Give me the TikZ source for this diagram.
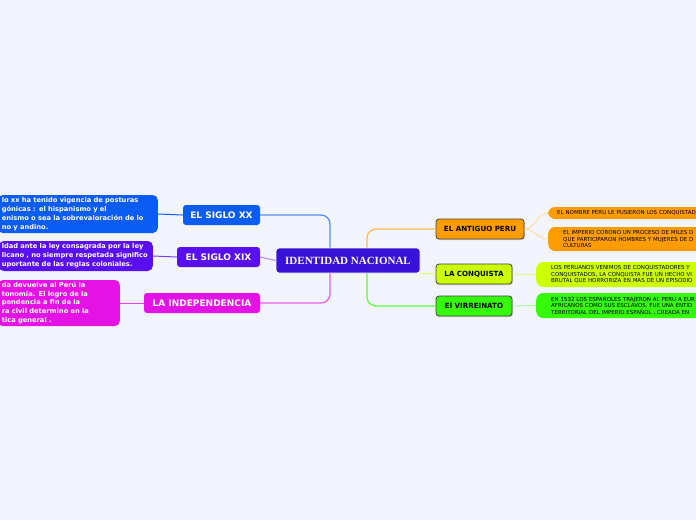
\documentclass[tikz,border=0pt]{standalone}
\usepackage{fontspec}
\setmainfont{DejaVu Sans}
\newfontfamily\titlefont{Liberation Serif}
\usetikzlibrary{positioning, shadows}

\definecolor{bgcol}{HTML}{F2F5FD}
\definecolor{centercol}{HTML}{3812D8}
\definecolor{xxcol}{HTML}{0B5CF2}
\definecolor{xixcol}{HTML}{5A0FF2}
\definecolor{indcol}{HTML}{E412E4}
\definecolor{antcol}{HTML}{FF9C00}
\definecolor{conqcol}{HTML}{CCFF00}
\definecolor{virrcol}{HTML}{35FA0A}

\begin{document}
\begin{tikzpicture}[
    x=1pt, y=-1pt,
    every node/.style={inner sep=0pt},
    branch/.style={
        rounded corners=3pt,
        minimum height=20pt,
        text=white,
        font=\fontsize{9}{10}\selectfont\bfseries
    },
    topic/.style={
        draw=black!75,
        line width=0.8pt,
        rounded corners=3pt,
        minimum height=20pt,
        text=black,
        font=\fontsize{7.1}{8}\selectfont\bfseries,
        drop shadow={shadow xshift=0.8pt, shadow yshift=-1pt, opacity=0.35}
    },
    noteL/.style={
        anchor=east,
        rounded corners=5pt,
        align=left,
        inner xsep=4pt,
        text=white,
        font=\fontsize{6.7}{9.1}\selectfont\bfseries
    },
    noteR/.style={
        anchor=west,
        rounded corners=7pt,
        align=left,
        text width=200pt,
        font=\fontsize{5.5}{6.3}\selectfont
    },
    link/.style={line width=1.2pt, rounded corners=9pt}
]

% background
\fill[bgcol] (0,0) rectangle (696,520);
\useasboundingbox (0,0) rectangle (696,520);

% central topic
\node[fill=centercol, draw=white, line width=0.8pt, rounded corners=3pt,
      minimum width=144pt, minimum height=25pt, text=white,
      font=\titlefont\fontsize{11}{12}\selectfont\bfseries] (ident) at (348,260.5) {IDENTIDAD NACIONAL};

% left branches
\node[branch, fill=xxcol, minimum width=77pt] (sxx) at (221.5,215) {EL SIGLO XX};
\node[branch, fill=xixcol, minimum width=83pt] (sxix) at (218.5,257) {EL SIGLO XIX};
\node[branch, fill=indcol, minimum width=116pt] (indep) at (202,303) {LA INDEPENDENCIA};

% right branches
\node[topic, fill=antcol, minimum width=88pt] (antiguo) at (480,229) {EL ANTIGUO PERU};
\node[topic, fill=conqcol, minimum width=76pt] (conq) at (474,274) {LA CONQUISTA};
\node[topic, fill=virrcol, minimum width=76pt] (virr) at (474,306) {El VIRREINATO};

% left notes
\node[noteL, fill=xxcol, minimum height=38pt, text width=152pt] (sxxnote) at (158,214)
    {\mbox{lo xx ha tenido vigencia de posturas}\\\mbox{gónicas : el hispanismo y el}\\\mbox{enismo o sea la sobrevaloración de lo}\\\mbox{no y andino.}};
\node[noteL, fill=xixcol, minimum height=30pt, text width=148pt, inner xsep=3pt] (sxixnote) at (153,256)
    {\mbox{ldad ante la ley consagrada por la ley}\\\mbox{licano , no siempre respetada significo}\\\mbox{uportante de las reglas coloniales.}};
\node[noteL, fill=indcol, minimum height=46pt, text width=114pt,
      font=\fontsize{6.7}{8.6}\selectfont\bfseries] (indepnote) at (120,303)
    {\mbox{da devuelve al Perú la}\\\mbox{tonomía. El logro de la}\\\mbox{pendencia a fin de la}\\\mbox{ra civil determino en la}\\\mbox{tica general .}};

% right notes
\node[noteR, fill=antcol, minimum height=12pt, inner xsep=9pt] (antnote1) at (548,213)
    {EL NOMBRE PERU LE PUSIERON LOS CONQUISTAD};
\node[noteR, fill=antcol, minimum height=24pt, inner xsep=15pt] (antnote2) at (548,239)
    {EL IMPERIO CORONO UN PROCESO DE MILES D\\QUE PARTICIPARON HOMBRES Y MUJERES DE D\\CULTURAS};
\node[noteR, fill=conqcol, minimum height=25pt, inner xsep=15pt] (conqnote) at (536,274.5)
    {LOS PERUANOS VENIMOS DE CONQUISTADORES Y\\CONQUISTADOS, LA CONQUISTA FUE UN HECHO VI\\BRUTAL QUE HORRORIZA EN MAS DE UN EPISODIO};
\node[noteR, fill=virrcol, minimum height=25pt, inner xsep=15pt] (virrnote) at (536,305.5)
    {EN 1532 LOS ESPAÑOLES TRAJERON AL PERU A EUR\\AFRICANOS COMO SUS ESCLAVOS. FUE UNA ENTID\\TERRITORIAL DEL IMPERIO ESPAÑOL , CREADA EN};

% main connectors
\draw[link, xxcol!70] (ident.north) ++(-18,0) |- (sxx.east);
\draw[link, xixcol!45] (ident.west) -- (sxix.east);
\draw[link, indcol!70] (ident.south) ++(-18,0) |- (indep.east);
\draw[link, antcol!70] (ident.north) ++(19,0) |- (antiguo.west);
\draw[link, conqcol!60] (ident.south east) -- (conq.west);
\draw[link, virrcol!80] (ident.south) ++(19,0) |- (virr.west);

% note connectors
\draw[line width=1pt, xxcol] (sxx.west) -- (sxxnote.east);
\draw[line width=1pt, xixcol!80] (sxix.west) -- (sxixnote.east);
\draw[line width=1pt, indcol!80] (indep.west) -- (indepnote.east);
\draw[line width=0.8pt, antcol!40] (antiguo.east) to[out=0, in=180] (antnote1.west);
\draw[line width=0.8pt, antcol!40] (antiguo.east) to[out=0, in=180] (antnote2.west);
\draw[line width=0.8pt, conqcol!60] (conq.east) -- (conqnote.west);
\draw[line width=0.8pt, virrcol!50] (virr.east) -- (virrnote.west);
\end{tikzpicture}
\end{document}
